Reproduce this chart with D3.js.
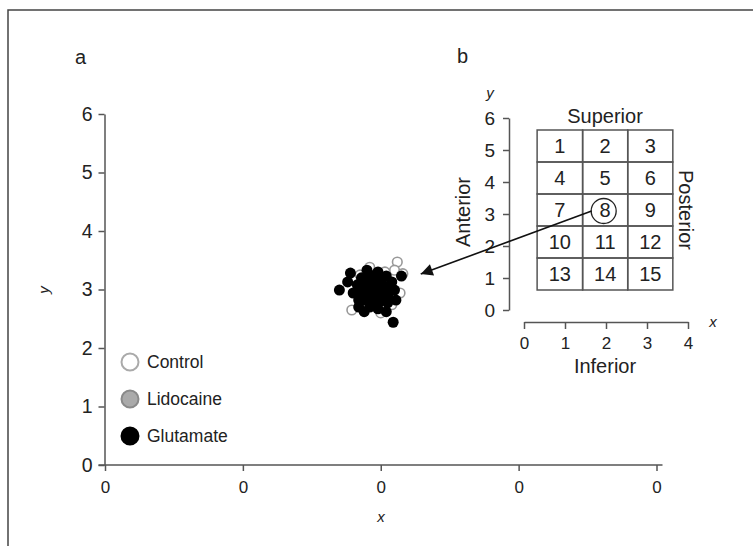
<!DOCTYPE html>
<html>
<head>
<meta charset="utf-8">
<script src="https://cdn.jsdelivr.net/npm/d3@7"></script>
<style>
  body { margin: 0; background: #fff; }
  svg { font-family: "Liberation Sans", Arial, sans-serif; display: block; }
  svg text { font-family: "Liberation Sans", Arial, sans-serif; }
  .axis path, .axis line { stroke: #555; stroke-width: 1.5; }
  .axis text { fill: #222; }
</style>
</head>
<body>
<div id="chart"></div>
<script>
// Main panel ticks
const mainXTicks = [0, 1, 2, 3, 4];
const mainXTickLabels = ["0", "0", "0", "0", "0"];
const mainYTicks = [0, 1, 2, 3, 4, 5, 6];

// Scatter points [x, y] in main-panel units
const control = [
  [2.12, 3.47], [2.10, 3.33], [1.92, 3.38], [2.14, 2.94], [1.79, 2.65],
  [1.96, 2.74], [2.03, 3.30], [2.00, 2.60], [1.85, 3.25], [2.08, 2.74],
  [2.16, 3.27], [1.95, 3.00], [2.00, 2.90]
];
const lidocaine = [
  [1.90, 3.05], [2.02, 3.02], [1.96, 2.88], [1.87, 2.90], [2.04, 3.12]
];
const glutamate = [
  [1.78, 3.28], [1.70, 2.99], [1.80, 2.94], [1.84, 2.70], [2.09, 2.44],
  [2.15, 3.23], [1.76, 3.13], [1.88, 2.62], [2.04, 2.62], [2.11, 2.82],
  [1.86, 3.20], [1.92, 3.25], [1.98, 3.30], [2.04, 3.23], [2.08, 3.13],
  [1.89, 3.08], [1.95, 3.11], [2.01, 3.08], [2.07, 2.99], [1.85, 2.96],
  [1.91, 2.96], [1.97, 2.96], [2.02, 2.91], [1.88, 2.82], [1.94, 2.82],
  [1.99, 2.79], [2.05, 2.77], [1.92, 2.70], [1.98, 2.67], [1.83, 3.08],
  [2.10, 2.99], [1.94, 3.03], [2.00, 3.18], [1.90, 3.33], [1.84, 2.82],
  [1.93, 2.89], [1.99, 3.00], [1.96, 3.20], [2.03, 2.98], [1.88, 3.14],
  [2.06, 3.06], [1.95, 2.75], [2.01, 2.85], [1.91, 3.16], [2.05, 2.90]
];
const legendLabels = ["Control", "Lidocaine", "Glutamate"];

// Inset panel
const insetXTicks = [0, 1, 2, 3, 4];
const insetYTicks = [0, 1, 2, 3, 4, 5, 6];
const gridXEdges = [0.32, 1.43, 2.53, 3.63];
const gridYEdges = [5.625, 4.625, 3.625, 2.625, 1.625, 0.625];
const cellNumbers = [1, 2, 3, 4, 5, 6, 7, 8, 9, 10, 11, 12, 13, 14, 15];
const highlightCell = 8;

// Arrow: from inset (cell 8) to main cluster
const arrowFrom = [1.65, 3.09];   // inset units
const arrowTo = [2.29, 3.265];    // main units

const svg = d3.select("#chart").append("svg")
  .attr("width", 753)
  .attr("height", 546);

// Frame (top and left edges only)
svg.append("path")
  .attr("d", "M8,546V10H753")
  .attr("fill", "none")
  .attr("stroke", "#444")
  .attr("stroke-width", 1.5);

// ---------- Main panel ----------
const x = d3.scaleLinear().domain([0, 4]).range([105, 656.5]);
const y = d3.scaleLinear().domain([0, 6]).range([465, 114]);

const xAxis = svg.append("g")
  .attr("class", "axis")
  .attr("transform", `translate(0,${y(0)})`)
  .call(d3.axisBottom(x).tickValues(mainXTicks)
    .tickFormat((d, i) => mainXTickLabels[i])
    .tickSize(6).tickSizeOuter(0).tickPadding(10));
xAxis.select(".domain").attr("d", `M${x.range()[0] - 6.5},0H${x.range()[1] + 6}`);
xAxis.selectAll("text").style("font-size", "17px");

const yAxis = svg.append("g")
  .attr("class", "axis")
  .attr("transform", `translate(${x(0) - 0.5},0)`)
  .call(d3.axisLeft(y).tickValues(mainYTicks).tickFormat(d3.format("d"))
    .tickSize(6).tickSizeOuter(0).tickPadding(6));
yAxis.selectAll("text").style("font-size", "19.5px");

svg.append("text")
  .attr("transform", `translate(49,290) rotate(-90)`)
  .attr("text-anchor", "middle")
  .style("font-size", "15px")
  .style("font-style", "italic")
  .attr("fill", "#222")
  .text("y");

svg.append("text")
  .attr("x", 381)
  .attr("y", 522)
  .attr("text-anchor", "middle")
  .style("font-size", "15px")
  .style("font-style", "italic")
  .attr("fill", "#222")
  .text("x");

svg.append("text").attr("x", 75).attr("y", 64)
  .style("font-size", "20px").attr("fill", "#222").text("a");

// Points
const dots = svg.append("g");
dots.selectAll(".ctl").data(control).enter().append("circle")
  .attr("cx", d => x(d[0])).attr("cy", d => y(d[1])).attr("r", 4.8)
  .attr("fill", "#fff").attr("stroke", "#999").attr("stroke-width", 1.6);
dots.selectAll(".lid").data(lidocaine).enter().append("circle")
  .attr("cx", d => x(d[0])).attr("cy", d => y(d[1])).attr("r", 5)
  .attr("fill", "#aaa").attr("stroke", "#888").attr("stroke-width", 1);
dots.selectAll(".glu").data(glutamate).enter().append("circle")
  .attr("cx", d => x(d[0])).attr("cy", d => y(d[1])).attr("r", 5.5)
  .attr("fill", "#000");

// Legend
const legendStyles = [
  { fill: "#fff", stroke: "#aaa" },
  { fill: "#aaa", stroke: "#8a8a8a" },
  { fill: "#000", stroke: "#000" }
];
const legend = svg.append("g");
legendLabels.forEach((label, i) => {
  const ly = 362 + i * 37;
  legend.append("circle")
    .attr("cx", 130).attr("cy", ly).attr("r", 8.5)
    .attr("fill", legendStyles[i].fill)
    .attr("stroke", legendStyles[i].stroke)
    .attr("stroke-width", 2);
  legend.append("text")
    .attr("x", 147).attr("y", ly)
    .attr("dy", "0.36em")
    .style("font-size", "17.5px")
    .attr("fill", "#222")
    .text(label);
});

// ---------- Inset panel ----------
const ix = d3.scaleLinear().domain([0, 4]).range([524, 688]);
const iy = d3.scaleLinear().domain([0, 6]).range([310, 118]);

const ixAxis = svg.append("g")
  .attr("class", "axis")
  .attr("transform", "translate(0,322)")
  .call(d3.axisBottom(ix).tickValues(insetXTicks).tickFormat(d3.format("d"))
    .tickSize(7).tickSizeOuter(0).tickPadding(8));
ixAxis.selectAll("text").style("font-size", "17px");

const iyAxis = svg.append("g")
  .attr("class", "axis")
  .attr("transform", "translate(509,0)")
  .call(d3.axisLeft(iy).tickValues(insetYTicks).tickFormat(d3.format("d"))
    .tickSize(6).tickSizeOuter(0).tickPadding(8));
iyAxis.selectAll("text").style("font-size", "19px");

svg.append("text").attr("x", 490).attr("y", 98)
  .attr("text-anchor", "middle")
  .style("font-size", "15px").style("font-style", "italic")
  .attr("fill", "#222").text("y");
svg.append("text").attr("x", 713).attr("y", 327)
  .attr("text-anchor", "middle")
  .style("font-size", "15px").style("font-style", "italic")
  .attr("fill", "#222").text("x");
svg.append("text").attr("x", 457).attr("y", 63)
  .style("font-size", "20px").attr("fill", "#222").text("b");

// Grid cells
const cells = [];
cellNumbers.forEach((n, i) => {
  const r = Math.floor(i / 3), c = i % 3;
  cells.push({ n, x0: gridXEdges[c], x1: gridXEdges[c + 1], y0: gridYEdges[r], y1: gridYEdges[r + 1] });
});
const grid = svg.append("g");
grid.selectAll("rect").data(cells).enter().append("rect")
  .attr("x", d => ix(d.x0)).attr("y", d => iy(d.y0))
  .attr("width", d => ix(d.x1) - ix(d.x0))
  .attr("height", d => iy(d.y1) - iy(d.y0))
  .attr("fill", "none").attr("stroke", "#555").attr("stroke-width", 1.5);
grid.selectAll("text").data(cells).enter().append("text")
  .attr("x", d => (ix(d.x0) + ix(d.x1)) / 2)
  .attr("y", d => (iy(d.y0) + iy(d.y1)) / 2)
  .attr("dy", "0.36em")
  .attr("text-anchor", "middle")
  .style("font-size", "20px")
  .attr("fill", "#222")
  .text(d => d.n);
const hc = cells.find(d => d.n === highlightCell);
grid.append("circle")
  .attr("cx", (ix(hc.x0) + ix(hc.x1)) / 2 - 1.5)
  .attr("cy", (iy(hc.y0) + iy(hc.y1)) / 2 + 1)
  .attr("r", 12.5)
  .attr("fill", "none").attr("stroke", "#222").attr("stroke-width", 1.3);

const bigText = [
  { t: "Superior", x: 605, y: 123, rot: 0 },
  { t: "Inferior", x: 605, y: 373, rot: 0 },
  { t: "Anterior", x: 470, y: 212, rot: -90 },
  { t: "Posterior", x: 679, y: 210, rot: 90 }
];
bigText.forEach(b => {
  svg.append("text")
    .attr("transform", `translate(${b.x},${b.y}) rotate(${b.rot})`)
    .attr("text-anchor", "middle")
    .style("font-size", "20px")
    .attr("fill", "#222")
    .text(b.t);
});

// Arrow
svg.append("defs").append("marker")
  .attr("id", "head")
  .attr("viewBox", "0 0 10 10")
  .attr("refX", 10).attr("refY", 5)
  .attr("markerUnits", "userSpaceOnUse")
  .attr("markerWidth", 18).attr("markerHeight", 12)
  .attr("orient", "auto")
  .append("path")
  .attr("d", "M0,0L10,5L0,10Z")
  .attr("fill", "#111");

svg.append("line")
  .attr("x1", ix(arrowFrom[0])).attr("y1", iy(arrowFrom[1]))
  .attr("x2", x(arrowTo[0])).attr("y2", y(arrowTo[1]))
  .attr("stroke", "#111").attr("stroke-width", 1.6)
  .attr("marker-end", "url(#head)");
</script>
</body>
</html>
